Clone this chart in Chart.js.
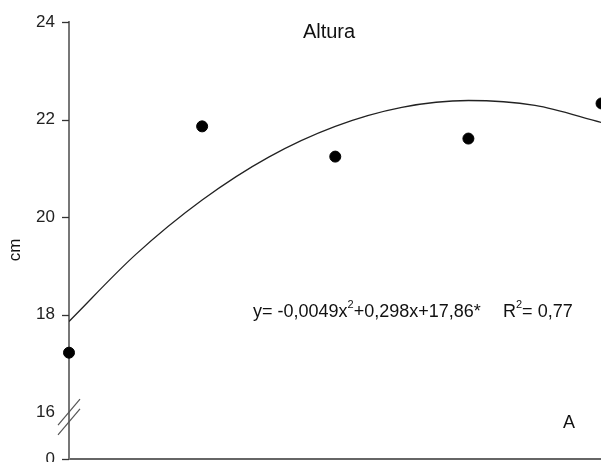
<!DOCTYPE html>
<html>
<head>
<meta charset="utf-8">
<script src="https://cdn.jsdelivr.net/npm/chart.js@4/dist/chart.umd.min.js"></script>
<style>
  html, body { margin: 0; padding: 0; background: #fff; overflow: hidden; }
  #wrap { width: 601px; height: 462px; position: relative; }
</style>
</head>
<body>
<div id="wrap"><canvas id="chart"></canvas></div>
<script>
// observed points (x = dose, y = height in cm)
const doses = [0, 10, 20, 30, 40];
const altura = [17.22, 21.86, 21.24, 21.61, 22.33];
// fitted curve
const curveX = [0, 5, 10, 15, 20, 25, 30, 35, 40];
const curveY = [17.86, 19.23, 20.35, 21.23, 21.86, 22.25, 22.39, 22.29, 21.94];
// y ticks; the lowest one sits under the axis break and is shown as "0"
const yBreakValue = 15.04;
const yTicks = [yBreakValue, 16, 18, 20, 22, 24];

const font = "'Liberation Sans', Arial, sans-serif";

// writes text with superscript parts, returns the new x
function drawSup(ctx, parts, x, y, size) {
    parts.forEach(function(p) {
        if (p.sup) {
            ctx.font = Math.round(size * 0.62) + 'px ' + font;
            ctx.fillText(p.t, x, y - size * 0.38);
        } else {
            ctx.font = size + 'px ' + font;
            ctx.fillText(p.t, x, y);
        }
        x += ctx.measureText(p.t).width;
    });
    return x;
}

const textPlugin = {
    id: 'texts',
    afterDatasetsDraw(chart) {
        const ctx = chart.ctx;
        const y = chart.scales.y;
        const left = chart.chartArea.left;
        ctx.save();
        // tick marks (none at 16, the break covers it)
        ctx.strokeStyle = '#333';
        ctx.lineWidth = 1.3;
        yTicks.forEach(function(v) {
            if (v === 16) return;
            const py = Math.round(y.getPixelForValue(v)) + 0.5;
            ctx.beginPath();
            ctx.moveTo(left - 7, py);
            ctx.lineTo(left, py);
            ctx.stroke();
        });
        // axis break marks
        ctx.strokeStyle = '#555';
        ctx.lineWidth = 1.2;
        [y.getPixelForValue(16), y.getPixelForValue(15.8)].forEach(function(c) {
            ctx.beginPath();
            ctx.moveTo(left - 11, c + 13);
            ctx.lineTo(left + 11, c - 13);
            ctx.stroke();
        });
        ctx.fillStyle = '#111';
        ctx.textBaseline = 'middle';
        ctx.font = '20px ' + font;
        ctx.textAlign = 'center';
        ctx.fillText('Altura', 329, 32);
        ctx.textAlign = 'left';
        drawSup(ctx, [{ t: 'y= -0,0049x' }, { t: '2', sup: true }, { t: '+0,298x+17,86*' }], 253, 312, 18);
        drawSup(ctx, [{ t: 'R' }, { t: '2', sup: true }, { t: '= 0,77' }], 503, 312, 18);
        ctx.font = '18px ' + font;
        ctx.fillText('A', 563, 423);
        // y axis title
        ctx.translate(15, 250);
        ctx.rotate(-Math.PI / 2);
        ctx.textAlign = 'center';
        ctx.font = '17px ' + font;
        ctx.fillText('cm', 0, 0);
        ctx.restore();
    }
};

new Chart(document.getElementById('chart'), {
    type: 'scatter',
    data: {
        datasets: [
            {
                label: 'ajuste',
                type: 'line',
                data: curveX.map((x, i) => ({ x: x, y: curveY[i] })),
                borderColor: '#222',
                borderWidth: 1.3,
                pointRadius: 0,
                fill: false,
                cubicInterpolationMode: 'monotone'
            },
            {
                label: 'Altura',
                data: doses.map((x, i) => ({ x: x, y: altura[i] })),
                backgroundColor: '#000',
                borderColor: '#000',
                pointRadius: 5.5,
                clip: false
            }
        ]
    },
    options: {
        responsive: true,
        maintainAspectRatio: false,
        animation: false,
        layout: { autoPadding: false, padding: { top: 22, right: 0, bottom: 3, left: 0 } },
        plugins: {
            legend: { display: false },
            tooltip: { enabled: false }
        },
        scales: {
            x: {
                type: 'linear',
                min: 0,
                max: 39.96,
                grid: { display: false },
                ticks: { display: false },
                border: { display: true, color: '#666', width: 2 },
                afterFit: function(s) { s.height = 0; s.paddingLeft = 0; s.paddingRight = 0; }
            },
            y: {
                min: yBreakValue,
                max: 24,
                afterBuildTicks: function(s) { s.ticks = yTicks.map(v => ({ value: v })); },
                afterFit: function(s) { s.width = 69; s.paddingTop = 0; s.paddingBottom = 0; },
                grid: { display: false },
                border: { display: true, color: '#777', width: 2 },
                ticks: {
                    padding: 6,
                    color: '#222',
                    font: { family: font, size: 17 },
                    callback: v => v < 16 ? '0' : String(v)
                }
            }
        }
    },
    plugins: [textPlugin]
});
</script>
</body>
</html>
